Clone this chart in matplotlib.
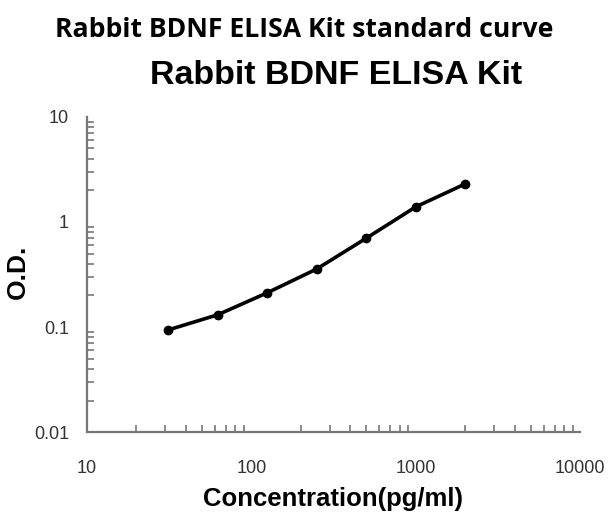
import numpy as np
import matplotlib.pyplot as plt
from matplotlib.ticker import LogLocator, FixedLocator, NullFormatter

# standard curve data
conc = [31.25, 62.5, 125, 250, 500, 1000, 2000]
od = [0.094, 0.131, 0.212, 0.357, 0.70, 1.39, 2.30]

x_ticks = [10, 100, 1000, 10000]
x_labels = ["10", "100", "1000", "10000"]
y_ticks = [0.01, 0.1, 1, 10]
y_labels = ["0.01", "0.1", "1", "10"]

fig = plt.figure(figsize=(6.08, 5.17), dpi=100)
ax = fig.add_axes([0.143, 0.164, 0.811, 0.610])

ax.plot(conc, od, color="black", lw=2.6, marker="o", ms=6)

ax.set_xscale("log")
ax.set_yscale("log")
ax.set_xlim(10, 10000)
ax.set_ylim(0.01, 10)

ax.xaxis.set_major_locator(FixedLocator(x_ticks))
ax.set_xticklabels(x_labels)
ax.yaxis.set_major_locator(FixedLocator(y_ticks))
ax.set_yticklabels(y_labels)
ax.xaxis.set_minor_locator(LogLocator(base=10, subs=np.arange(2, 10)))
ax.yaxis.set_minor_locator(LogLocator(base=10, subs=np.arange(2, 10)))
ax.xaxis.set_minor_formatter(NullFormatter())
ax.yaxis.set_minor_formatter(NullFormatter())

for s in ["top", "right"]:
    ax.spines[s].set_visible(False)
for s in ["left", "bottom"]:
    ax.spines[s].set_color("#777777")
    ax.spines[s].set_linewidth(1.6)

ax.tick_params(which="major", length=0, labelsize=13, labelcolor="#333333")
ax.tick_params(axis="x", which="major", pad=20)
ax.tick_params(axis="y", which="major", pad=13)
ax.tick_params(which="minor", direction="in", length=5, width=1.2, color="#777777")
for lab in ax.get_xticklabels() + ax.get_yticklabels():
    lab.set_fontfamily("Liberation Sans")

ax.set_xlabel("Concentration(pg/ml)", fontsize=18.5, fontweight="bold",
              family="Liberation Sans")
ax.set_ylabel("O.D.", fontsize=19, fontweight="bold",
              family="Liberation Sans")
ax.xaxis.set_label_coords(0.5, -0.175)
ax.yaxis.set_label_coords(-0.116, 0.51)

fig.text(0.500, 0.942, "Rabbit BDNF ELISA Kit standard curve", ha="center", va="center",
         fontsize=19.2, fontweight="bold", family="Open Sans")
fig.text(0.553, 0.853, "Rabbit BDNF ELISA Kit", ha="center", va="center",
         fontsize=24.5, fontweight="bold", family="Liberation Sans")

fig.savefig("out.png", dpi=100)
